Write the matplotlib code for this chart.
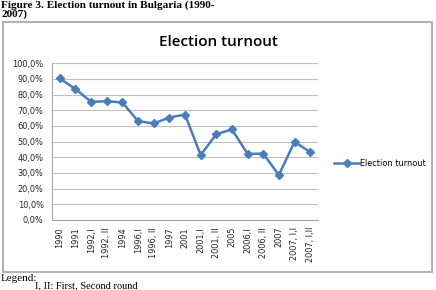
import matplotlib
matplotlib.use("Agg")
import matplotlib.pyplot as plt
from matplotlib.patches import Rectangle
from matplotlib.ticker import FuncFormatter, MultipleLocator

categories = ["1990", "1991", "1992,I", "1992, II", "1994", "1996,I", "1996, II", "1997",
              "2001", "2001,I", "2001, II", "2005", "2006,I", "2006, II", "2007",
              "2007, I,I", "2007, I,II"]
turnout = [90.3, 83.6, 75.4, 75.8, 75.0, 63.1, 61.6, 65.4, 67.3, 41.4, 54.8, 57.8,
           42.2, 42.3, 28.7, 49.9, 43.3]

W, H = 436, 290
fig = plt.figure(figsize=(W / 100, H / 100), dpi=100)

def fx(px):
    return px / W

def fy(py):
    return 1 - py / H

# Caption
fig.text(fx(1), fy(0), "Figure 3. Election turnout in Bulgaria (1990-\n2007)",
         family="Liberation Serif", weight="bold", fontsize=8.1, va="top", ha="left",
         linespacing=0.95)

# Chart frame
fig.patches.append(Rectangle((fx(3), fy(272)), fx(429), (272 - 22) / H,
                             transform=fig.transFigure, fill=False,
                             edgecolor="#b3b3b3", linewidth=1.5))

fig.text(fx(218), fy(42), "Election turnout", family="Open Sans", weight="semibold",
         fontsize=11, ha="center", va="center")

ax = fig.add_axes([fx(52), fy(220), fx(318 - 52), (220 - 63.3) / H])
x = list(range(len(categories)))
line, = ax.plot(x, turnout, color="#4a7ebb", linewidth=1.8, marker="D",
                markersize=4, label="Election turnout")
ax.set_xlim(-0.5, len(categories) - 0.5)
ax.set_ylim(0, 100)
ax.yaxis.set_major_locator(MultipleLocator(10))
ax.yaxis.set_major_formatter(FuncFormatter(lambda v, p: f"{v:.1f}%".replace(".", ",")))
ax.set_xticks(x)
ax.set_xticklabels(categories, rotation=90)
ax.tick_params(axis="both", labelsize=5.9, length=0, colors="#333333")
ax.tick_params(axis="x", pad=5)
ax.tick_params(axis="y", pad=6)
ax.grid(axis="y", color="#c0c0c0", linewidth=0.8)
ax.set_axisbelow(True)
for s in ["top", "right"]:
    ax.spines[s].set_visible(False)
for s in ["left", "bottom"]:
    ax.spines[s].set_color("#a6a6a6")
    ax.spines[s].set_linewidth(0.8)
for lab in ax.get_xticklabels() + ax.get_yticklabels():
    lab.set_family("DejaVu Sans")
    lab.set_color("#222222")

fig.legend(handles=[line], loc="center left", bbox_to_anchor=(fx(331), fy(163)),
           frameon=False, fontsize=5.9, handlelength=3.0, handletextpad=0.15,
           borderaxespad=0)

fig.text(fx(1), fy(274), "Legend:", family="Liberation Serif", fontsize=8,
         va="top", ha="left")
fig.text(fx(35), fy(290), "I, II: First, Second round", family="Liberation Serif",
         fontsize=7.5, va="bottom", ha="left")

fig.savefig("out.png", dpi=100)
